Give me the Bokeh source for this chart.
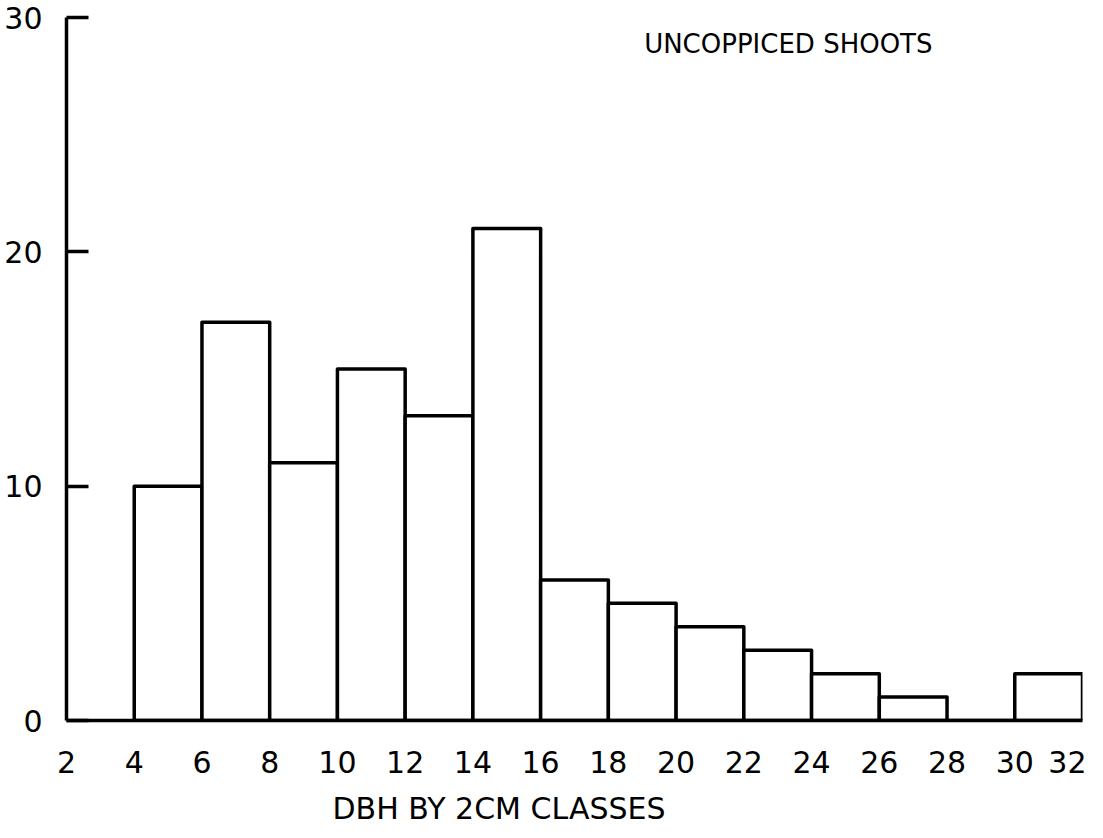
from bokeh.plotting import figure
from bokeh.models import Title, FixedTicker
from bokeh.embed import file_html
from bokeh.resources import INLINE

# DBH classes (cm) and counts of uncoppiced shoots
class_left = [4, 6, 8, 10, 12, 14, 16, 18, 20, 22, 24, 26, 28, 30]
class_right = [6, 8, 10, 12, 14, 16, 18, 20, 22, 24, 26, 28, 30, 32]
counts = [10, 17, 11, 15, 13, 21, 6, 5, 4, 3, 2, 1, 0, 2]
x_ticks = [2, 4, 6, 8, 10, 12, 14, 16, 18, 20, 22, 24, 26, 28, 30, 32]
y_ticks = [0, 10, 20, 30]
title_text = "UNCOPPICED SHOOTS"
xlabel_text = "DBH BY 2CM CLASSES"

FONT = "DejaVu Sans"

p = figure(frame_width=1016, frame_height=703, output_backend="svg", toolbar_location=None,
           x_range=(2, 32), y_range=(0, 30),
           min_border_left=66, min_border_right=4, min_border_top=17, min_border_bottom=90)
p.outline_line_color = None
p.xgrid.grid_line_color = None
p.ygrid.grid_line_color = None
p.background_fill_color = "white"
p.border_fill_color = "white"

p.quad(left=class_left, right=class_right, bottom=0, top=counts,
       fill_color="white", line_color="black", line_width=3.5, line_join="round")

for ax in (p.xaxis[0], p.yaxis[0]):
    ax.axis_line_width = 3.5
    ax.axis_line_color = "black"
    ax.major_label_text_font = FONT
    ax.major_label_text_font_size = "30px"
    ax.major_label_text_color = "black"
    ax.minor_tick_line_color = None

p.xaxis[0].ticker = FixedTicker(ticks=x_ticks)
p.xaxis[0].major_tick_line_color = None
p.xaxis[0].major_tick_in = 0
p.xaxis[0].major_tick_out = 0
p.xaxis[0].major_label_standoff = 30

p.yaxis[0].ticker = FixedTicker(ticks=y_ticks)
p.yaxis[0].major_tick_in = 22
p.yaxis[0].major_tick_out = 0
p.yaxis[0].major_tick_line_width = 3.5
p.yaxis[0].major_tick_line_color = "black"
p.yaxis[0].major_label_standoff = 24

# chart heading inside the plot area, top right
p.add_layout(Title(text=title_text, align="right", offset=150, standoff=-82,
                   text_font=FONT, text_font_size="26px", text_font_style="normal",
                   text_color="black"), "above")
# x-axis caption, left of centre as in the original
p.add_layout(Title(text=xlabel_text, align="left", offset=266, standoff=26,
                   text_font=FONT, text_font_size="30px", text_font_style="normal",
                   text_color="black"), "below")

open("out.html", "w").write(file_html(p, INLINE))
